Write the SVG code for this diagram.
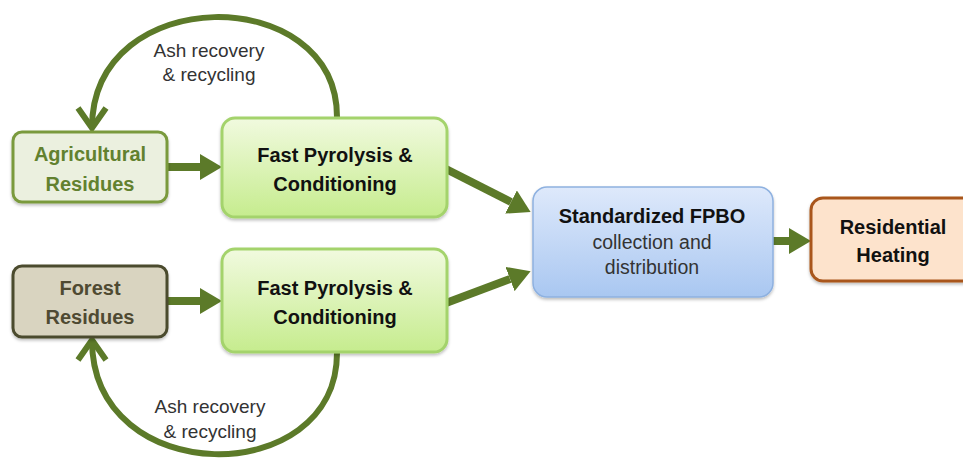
<svg xmlns="http://www.w3.org/2000/svg" width="963" height="459" viewBox="0 0 963 459">
  <defs>
    <linearGradient id="gFP" x1="0" y1="0" x2="0" y2="1">
      <stop offset="0" stop-color="#f1fadf"/>
      <stop offset="1" stop-color="#c6ec8e"/>
    </linearGradient>
    <linearGradient id="gBlue" x1="0" y1="0" x2="0" y2="1">
      <stop offset="0" stop-color="#dee9fb"/>
      <stop offset="1" stop-color="#a9c7f1"/>
    </linearGradient>
    <filter id="shadow" x="-10%" y="-10%" width="120%" height="130%">
      <feDropShadow dx="0" dy="2" stdDeviation="1.5" flood-color="#000" flood-opacity="0.25"/>
    </filter>
    <!-- solid triangular head for the straight flow arrows -->
    <marker id="head" viewBox="0 0 22 26" refX="0" refY="13" markerWidth="22" markerHeight="26" markerUnits="userSpaceOnUse" orient="auto">
      <path d="M0,0 L22,13 L0,26 z" fill="#5c7a29"/>
    </marker>
    <!-- open chevron head for the recycling loops -->
    <marker id="chevron" viewBox="-26 -18 30 36" refX="0" refY="0" markerWidth="30" markerHeight="36" markerUnits="userSpaceOnUse" orient="auto">
      <path d="M-20,-14 L0,0 L-20,14" fill="none" stroke="#5c7a29" stroke-width="6"/>
    </marker>
  </defs>
  <style>
    .flow { fill: none; stroke: #5c7a29; stroke-width: 8; marker-end: url(#head); }
    .loop { fill: none; stroke: #5c7a29; stroke-width: 6; marker-end: url(#chevron); }
    .bold { font-family: "Liberation Sans", Arial, sans-serif; font-weight: bold; font-size: 20px; text-anchor: middle; }
    .reg { font-family: "Liberation Sans", Arial, sans-serif; font-size: 19px; text-anchor: middle; fill: #333; }
    .fp { fill: url(#gFP); stroke: #a4d36c; stroke-width: 3; filter: url(#shadow); }
  </style>
  <rect width="963" height="459" fill="#ffffff"/>

  <g id="connectors">
    <path class="flow" d="M166,167 L200,167"/>
    <path class="flow" d="M166,301 L200,301"/>
    <path class="flow" d="M446,169 L511,202"/>
    <path class="flow" d="M446,303 L510,279"/>
    <path class="flow" d="M772,241 L789,241"/>
    <path class="loop" d="M337,117 C337,-18 92,-18 92,128"/>
    <path class="loop" d="M337,353 C337,490 92,490 92,340"/>
    <text class="reg" x="209" y="57">Ash recovery</text>
    <text class="reg" x="209" y="81">&amp; recycling</text>
    <text class="reg" x="210" y="413">Ash recovery</text>
    <text class="reg" x="210" y="438">&amp; recycling</text>
  </g>

  <g id="agricultural">
    <rect x="13" y="132" width="154" height="70" rx="9" fill="#ebf0df" stroke="#7a9a3e" stroke-width="3" filter="url(#shadow)"/>
    <text class="bold" x="90" y="161" fill="#62812f">Agricultural</text>
    <text class="bold" x="90" y="191" fill="#62812f">Residues</text>
  </g>

  <g id="forest">
    <rect x="13" y="266" width="154" height="71" rx="9" fill="#d9d4c0" stroke="#4b4b2e" stroke-width="3" filter="url(#shadow)"/>
    <text class="bold" x="90" y="295" fill="#4f4a32">Forest</text>
    <text class="bold" x="90" y="324" fill="#4f4a32">Residues</text>
  </g>

  <g id="pyrolysis-top">
    <rect class="fp" x="222" y="118" width="225" height="99" rx="13"/>
    <text class="bold" x="335" y="162" fill="#111">Fast Pyrolysis &amp;</text>
    <text class="bold" x="335" y="191" fill="#111">Conditioning</text>
  </g>

  <g id="pyrolysis-bottom">
    <rect class="fp" x="222" y="249" width="225" height="103" rx="13"/>
    <text class="bold" x="335" y="295" fill="#111">Fast Pyrolysis &amp;</text>
    <text class="bold" x="335" y="324" fill="#111">Conditioning</text>
  </g>

  <g id="fpbo">
    <rect x="533" y="187" width="240" height="110" rx="14" fill="url(#gBlue)" stroke="#8eb1e0" stroke-width="1.5" filter="url(#shadow)"/>
    <text class="bold" x="652" y="223" fill="#111">Standardized FPBO</text>
    <text class="reg" x="652" y="249" style="font-size:19.5px">collection and</text>
    <text class="reg" x="652" y="274" style="font-size:19.5px">distribution</text>
  </g>

  <g id="residential">
    <rect x="811" y="198" width="170" height="83" rx="12" fill="#fde3cc" stroke="#a9561b" stroke-width="3" filter="url(#shadow)"/>
    <text class="bold" x="893" y="234" fill="#111">Residential</text>
    <text class="bold" x="893" y="262" fill="#111">Heating</text>
  </g>
</svg>
